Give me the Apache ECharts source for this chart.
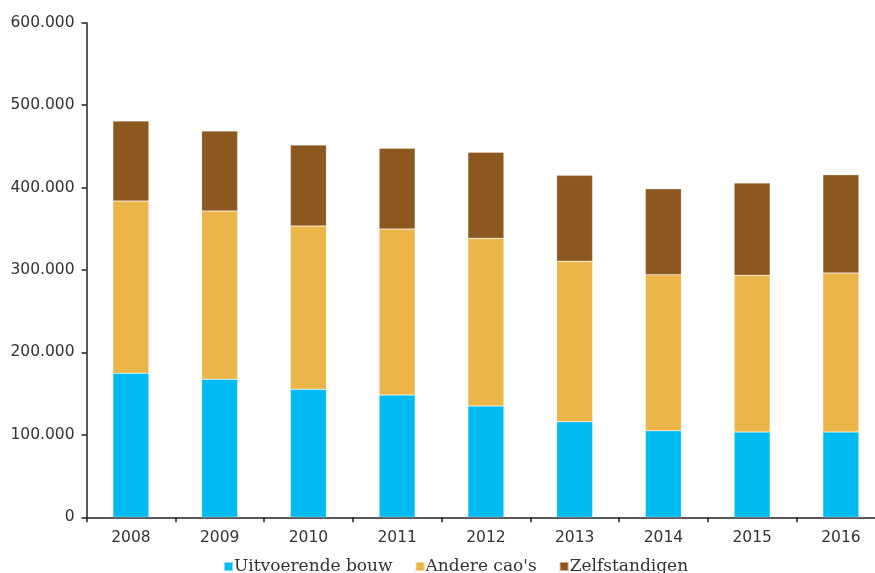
<!DOCTYPE html>
<html><head><meta charset="utf-8">
<script src="https://cdn.jsdelivr.net/npm/echarts@6/dist/echarts.min.js"></script>
<style>html,body{margin:0;padding:0;background:#fff;overflow:hidden;width:875px;height:573px}#c{width:895px;height:573px}</style>
</head><body><div id="c"></div>
<script>
const categories = ['2008','2009','2010','2011','2012','2013','2014','2015','2016'];
const uitvoerendeBouw = [174700, 167400, 155300, 148400, 135000, 116000, 105000, 103500, 103500];
const andereCaos = [209000, 204200, 198100, 201400, 203500, 194600, 189300, 190100, 192900];
const zelfstandigen = [97100, 97000, 98300, 97900, 104300, 104300, 104300, 112000, 119200];
const yTicks = [0, 100000, 200000, 300000, 400000, 500000, 600000];

const chart = echarts.init(document.getElementById('c'));
const fmt = v => v === 0 ? '0' : String(v).replace(/\B(?=(\d{3})+(?!\d))/g, '.');
const mk = (name, data, color) => ({
  name, type: 'bar', stack: 'a', data, barWidth: 36,
  itemStyle: { color, borderColor: 'rgba(255,255,255,0.5)', borderWidth: 0.5 }
});
chart.setOption({
  animation: false,
  grid: { left: 86.5, right: 9.75, top: 22.7, bottom: 55.7, containLabel: false },
  xAxis: {
    type: 'category', data: categories,
    axisLine: { lineStyle: { color: '#222', width: 1.5 } },
    axisTick: { show: true, length: 5, lineStyle: { color: '#222', width: 1.5 } },
    axisLabel: { color: '#333', fontSize: 15.5, fontFamily: 'DejaVu Sans', margin: 13 }
  },
  yAxis: {
    type: 'value', min: yTicks[0], max: yTicks[yTicks.length - 1], interval: 100000,
    axisLine: { show: true, lineStyle: { color: '#222', width: 1.5 } },
    axisTick: { show: true, length: 5, lineStyle: { color: '#222', width: 1.5 } },
    splitLine: { show: false },
    axisLabel: { color: '#333', fontSize: 15.5, fontFamily: 'DejaVu Sans', margin: 12, formatter: fmt }
  },
  legend: {
    bottom: -7, left: 218, itemWidth: 9, itemHeight: 9, itemGap: 22,
    icon: 'rect',
    textStyle: { color: '#333', fontSize: 17, fontFamily: 'DejaVu Serif', padding: [0, 0, 0, -4] },
    data: ['Uitvoerende bouw', "Andere cao's", 'Zelfstandigen']
  },
  series: [
    mk('Uitvoerende bouw', uitvoerendeBouw, '#00BAF2'),
    mk("Andere cao's", andereCaos, '#EBB54A'),
    mk('Zelfstandigen', zelfstandigen, '#8C5820')
  ]
});
</script></body></html>
